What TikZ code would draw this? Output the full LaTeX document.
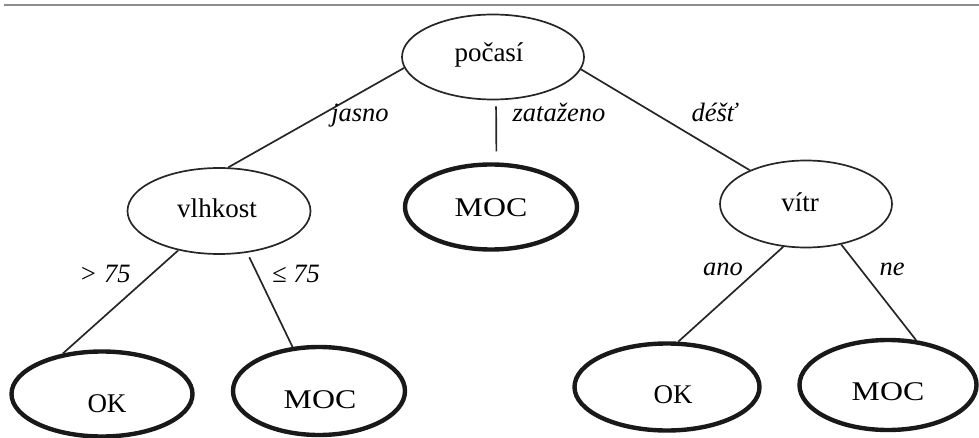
\documentclass[tikz,border=0pt]{standalone}
\usepackage{fontspec}
\setmainfont{Liberation Serif}
\usetikzlibrary{shapes.geometric}
\tikzset{
  thinell/.style={ellipse, draw=black!85, line width=1.7pt, inner sep=0pt},
  thickell/.style={ellipse, draw=black!90, line width=4.4pt, inner sep=0pt},
  txt/.style={anchor=base, inner sep=0pt, font=\fontsize{27}{30}\selectfont},
  edge/.style={draw=black!85, line width=1.7pt},
  lab/.style={anchor=base, font=\fontsize{26.5}{30}\selectfont\itshape, inner sep=0pt}
}
\newcommand{\wideMOC}{\scalebox{1.18}[1]{MOC}}
\begin{document}
\begin{tikzpicture}[x=1pt,y=-1pt]
\useasboundingbox (0,0) rectangle (979,438);
\draw[draw=black!45, line width=1.8pt] (4,4.7) -- (979,4.7);
% nodes
\node[thinell, minimum width=182pt, minimum height=85pt] (poc) at (493,57) {};
\node[thinell, minimum width=183pt, minimum height=86pt] (vlh) at (219,211) {};
\node[thickell, minimum width=172pt, minimum height=85pt] (moc1) at (491,207) {};
\node[thinell, minimum width=172pt, minimum height=87pt] (vit) at (806,204) {};
\node[thickell, minimum width=181pt, minimum height=85pt] (ok1) at (102,394) {};
\node[thickell, minimum width=172pt, minimum height=88pt] (moc2) at (319,391) {};
\node[thickell, minimum width=185pt, minimum height=87pt] (ok2) at (667,387) {};
\node[thickell, minimum width=177pt, minimum height=90pt] (moc3) at (888,385) {};
% node texts
\node[txt] (poct) at (489,62) {počasí};
\node[txt] (vlht) at (217,218) {vlhkost};
\node[txt] (moc1t) at (491,217) {\wideMOC};
\node[txt] (vitt) at (800,212) {vítr};
\node[txt] (ok1t) at (107,412) {OK};
\node[txt] (moc2t) at (320,408) {\wideMOC};
\node[txt] (ok2t) at (673,403) {OK};
\node[txt] (moc3t) at (888,400) {\wideMOC};
% connectors
\draw[edge] (poc.187) -- (vlh.78);
\draw[edge, shorten <=6pt, shorten >=11pt] (poc.-86) -- (moc1.83);
\draw[edge] (poc.-8) -- (vit.149);
\draw[edge] (vlh.224) -- (ok1.134);
\draw[edge, shorten <=5pt] (vlh.-56) -- (moc2.121);
\draw[edge] (vit.242) -- (ok2.76);
\draw[edge] (vit.-49) -- (moc3.58);
% labels
\node[lab] (l1) at (360,122) {jasno};
\node[lab] (l2) at (559,122) {zataženo};
\node[lab] (l3) at (714,122) {déšť};
\node[lab] (l4) at (105,283) {> 75};
\node[lab] (l5) at (296,283) {≤ 75};
\node[lab] (l6) at (723,275) {ano};
\node[lab] (l7) at (892,275) {ne};
\end{tikzpicture}
\end{document}
